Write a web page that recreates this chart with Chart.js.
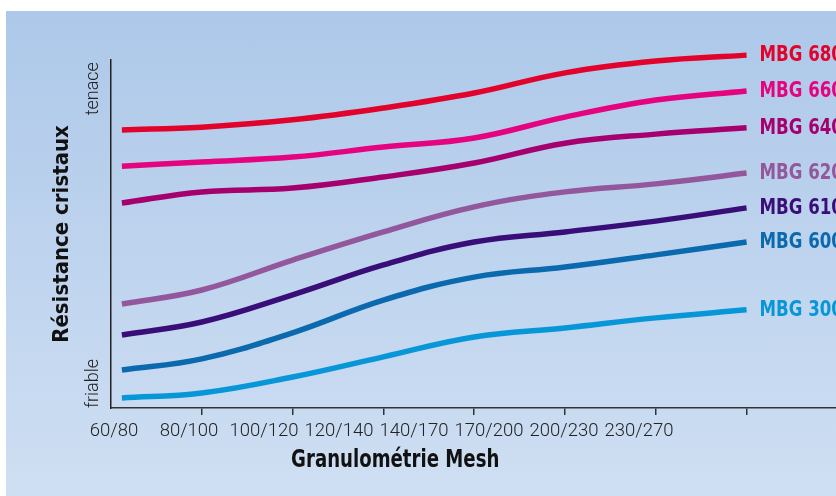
<!DOCTYPE html>
<html>
<head>
<meta charset="utf-8">
<script src="https://cdn.jsdelivr.net/npm/chart.js@4.4.1/dist/chart.umd.min.js"></script>
<style>
  body { margin: 0; background: #fff; }
  #wrap { position: relative; width: 836px; height: 496px; }
  #bg { position: absolute; left: 6px; top: 11px; right: 0; bottom: 0;
        background: linear-gradient(to bottom, #adc8e9, #cfdff3); }
  #chart { position: absolute; left: 0; top: 0; }
</style>
</head>
<body>
<div id="wrap">
  <div id="bg"></div>
  <canvas id="chart" width="836" height="496"></canvas>
</div>
<script>
// Mesh sizes (x positions of the curve samples, in tick units)
const meshX = [0.12, 1, 2, 3, 4, 5, 6, 7];
const meshLabels = ['60/80', '80/100', '100/120', '120/140', '140/170', '170/200', '200/230', '230/270'];

// y tick labels (resistance scale 0-100)
const resLabels = ['friable', 'tenace'];
const resTicks = [14.1, 99.4];

// series
const mbg680 = [79.9, 80.7, 82.8, 86.2, 90.5, 96.3, 99.7, 101.4];
const mbg660 = [69.5, 70.7, 72.1, 75.0, 77.6, 83.6, 88.5, 91.1];
const mbg640 = [58.9, 62.1, 63.2, 66.4, 70.4, 76.1, 78.7, 80.5];
const mbg620 = [29.9, 33.9, 42.5, 50.6, 57.8, 62.1, 64.4, 67.5];
const mbg610 = [21.0, 24.7, 32.5, 41.1, 47.7, 50.6, 53.7, 57.5];
const mbg600 = [10.9, 14.1, 21.6, 31.0, 37.6, 40.5, 44.0, 47.7];
const mbg300 = [2.9, 4.3, 8.9, 14.7, 20.4, 23.0, 25.9, 28.2];

const seriesNames = ['MBG 680', 'MBG 660', 'MBG 640', 'MBG 620', 'MBG 610', 'MBG 600', 'MBG 300'];
const seriesData = [mbg680, mbg660, mbg640, mbg620, mbg610, mbg600, mbg300];
const seriesColors = ['#e2032c', '#e5037f', '#a6006f', '#93579c', '#3a0e78', '#0b69ae', '#0797d9'];

const COND = "'DejaVu Sans Condensed', 'Roboto', sans-serif";
const LIGHT = "'Roboto', 'DejaVu Sans Condensed', sans-serif";

const datasets = seriesNames.map((name, i) => ({
  label: name,
  data: seriesData[i].map((v, j) => ({ x: meshX[j], y: v })),
  borderColor: seriesColors[i],
  borderWidth: 5.5,
  pointRadius: 0,
  tension: 0.4,
  borderCapStyle: 'butt',
  clip: false
}));

// draws text squeezed horizontally, to mimic the condensed face of the original
function narrowText(ctx, text, x, y, sx) {
  ctx.save();
  ctx.translate(x, y);
  ctx.scale(sx, 1);
  ctx.fillText(text, 0, 0);
  ctx.restore();
}

// series names at the end of each curve + x axis title
const endLabels = {
  id: 'endLabels',
  afterDatasetsDraw(chart) {
    const ctx = chart.ctx;
    ctx.save();
    ctx.font = 'bold 22px ' + COND;
    ctx.textBaseline = 'middle';
    ctx.textAlign = 'left';
    chart.data.datasets.forEach((ds, i) => {
      const pts = chart.getDatasetMeta(i).data;
      const last = pts[pts.length - 1];
      ctx.fillStyle = ds.borderColor;
      narrowText(ctx, ds.label, last.x + 13, last.y, 0.84);
    });
    // x title
    const xl = chart.scales.xl;
    ctx.font = 'bold 24px ' + COND;
    ctx.fillStyle = '#111';
    ctx.textAlign = 'center';
    ctx.textBaseline = 'alphabetic';
    narrowText(ctx, 'Granulométrie Mesh', xl.getPixelForValue(3.75), xl.bottom + 26, 0.84);
    ctx.restore();
  }
};

new Chart(document.getElementById('chart'), {
  type: 'line',
  data: { datasets: datasets },
  plugins: [endLabels],
  options: {
    responsive: false,
    animation: false,
    layout: { padding: { top: 60, left: 0, right: 0, bottom: 55 } },
    plugins: { legend: { display: false }, tooltip: { enabled: false } },
    scales: {
      x: {
        type: 'linear',
        position: 'bottom',
        weight: 0,
        min: 0,
        max: 7.985,
        ticks: { display: false, stepSize: 1, includeBounds: false },
        grid: {
          drawOnChartArea: false,
          drawTicks: true,
          tickLength: 7,
          lineWidth: 1.5,
          color: c => (c.tick && c.tick.value === 0) ? 'rgba(0,0,0,0)' : '#333'
        },
        border: { display: true, color: '#333', width: 1.5 },
        afterFit: s => { s.height = 3; s.paddingLeft = 0; s.paddingRight = 0; }
      },
      xl: {
        type: 'linear',
        position: 'bottom',
        weight: 1,
        min: -0.04,
        max: 9.627,
        afterBuildTicks: s => { s.ticks = meshLabels.map((l, i) => ({ value: i })); },
        ticks: {
          autoSkip: false,
          maxRotation: 0,
          padding: 1,
          color: '#222',
          font: { family: LIGHT, size: 18.5, weight: 300 },
          callback: v => meshLabels[v]
        },
        grid: { display: false },
        border: { display: false },
        afterFit: s => { s.height = 30; s.paddingLeft = 0; s.paddingRight = 0; }
      },
      y: {
        type: 'linear',
        min: 0,
        max: 100,
        afterBuildTicks: s => { s.ticks = resTicks.map(v => ({ value: v })); },
        ticks: {
          minRotation: 90,
          maxRotation: 90,
          padding: 10,
          color: '#222',
          font: { family: LIGHT, size: 18, weight: 300 },
          callback: (v, i) => resLabels[i]
        },
        grid: { display: false },
        border: { display: true, color: '#222', width: 1.5 },
        title: {
          display: true,
          text: 'Résistance cristaux',
          color: '#111',
          font: { family: COND, size: 22, weight: 'bold' },
          padding: { top: 49, bottom: 0 }
        },
        afterFit: s => { s.width = 111; s.paddingTop = 0; s.paddingBottom = 0; }
      }
    }
  }
});
</script>
</body>
</html>
